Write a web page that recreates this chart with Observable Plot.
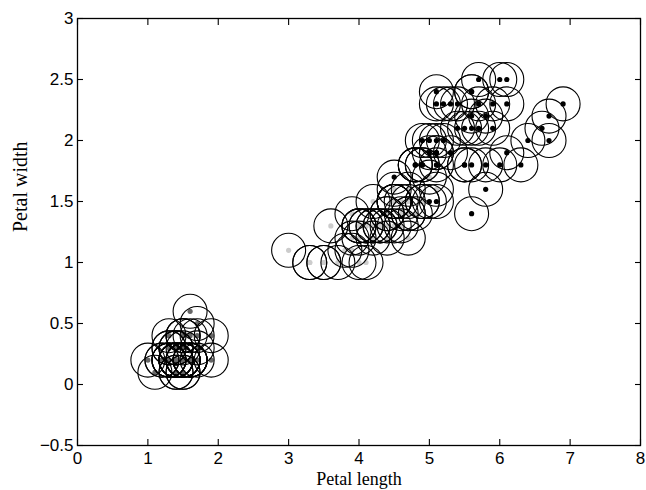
<!DOCTYPE html>
<html>
<head>
<meta charset="utf-8">
<script src="https://cdn.jsdelivr.net/npm/d3@7"></script>
<script src="https://cdn.jsdelivr.net/npm/@observablehq/plot@0.6"></script>
<style>
  html, body { margin: 0; padding: 0; background: #fff; }
  #chart svg { display: block; }
</style>
</head>
<body>
<div id="chart"></div>
<script>
// Iris petal measurements
const setosaLength = [1.4,1.4,1.3,1.5,1.4,1.7,1.4,1.5,1.4,1.5,1.5,1.6,1.4,1.1,1.2,1.5,1.3,1.4,1.7,1.5,1.7,1.5,1.0,1.7,1.9,1.6,1.6,1.5,1.4,1.6,1.6,1.5,1.5,1.4,1.5,1.2,1.3,1.4,1.3,1.5,1.3,1.3,1.3,1.6,1.9,1.4,1.6,1.4,1.5,1.4];
const setosaWidth  = [0.2,0.2,0.2,0.2,0.2,0.4,0.3,0.2,0.2,0.1,0.2,0.2,0.1,0.1,0.2,0.4,0.4,0.3,0.3,0.3,0.2,0.4,0.2,0.5,0.2,0.2,0.4,0.2,0.2,0.2,0.2,0.4,0.1,0.2,0.2,0.2,0.2,0.1,0.2,0.2,0.3,0.3,0.2,0.6,0.4,0.3,0.2,0.2,0.2,0.2];
const versicolorLength = [4.7,4.5,4.9,4.0,4.6,4.5,4.7,3.3,4.6,3.9,3.5,4.2,4.0,4.7,3.6,4.4,4.5,4.1,4.5,3.9,4.8,4.0,4.9,4.7,4.3,4.4,4.8,5.0,4.5,3.5,3.8,3.7,3.9,5.1,4.5,4.5,4.7,4.4,4.1,4.0,4.4,4.6,4.0,3.3,4.2,4.2,4.2,4.3,3.0,4.1];
const versicolorWidth  = [1.4,1.5,1.5,1.3,1.5,1.3,1.6,1.0,1.3,1.4,1.0,1.5,1.0,1.4,1.3,1.4,1.5,1.0,1.5,1.1,1.8,1.3,1.5,1.2,1.3,1.4,1.4,1.7,1.5,1.0,1.1,1.0,1.2,1.6,1.5,1.6,1.5,1.3,1.3,1.3,1.2,1.4,1.2,1.0,1.3,1.2,1.3,1.3,1.1,1.3];
const virginicaLength = [6.0,5.1,5.9,5.6,5.8,6.6,4.5,6.3,5.8,6.1,5.1,5.3,5.5,5.0,5.1,5.3,5.5,6.7,6.9,5.0,5.7,4.9,6.7,4.9,5.7,6.0,4.8,4.9,5.6,5.8,6.1,6.4,5.6,5.1,5.6,6.1,5.6,5.5,4.8,5.4,5.6,5.1,5.1,5.9,5.7,5.2,5.0,5.2,5.4,5.1];
const virginicaWidth  = [2.5,1.9,2.1,1.8,2.2,2.1,1.7,1.8,1.8,2.5,2.0,1.9,2.1,2.0,2.4,2.3,1.8,2.2,2.3,1.5,2.3,2.0,2.0,1.8,2.1,1.8,1.8,1.8,2.1,1.6,1.9,2.0,2.2,1.5,1.4,2.3,2.4,1.8,1.8,2.1,2.4,2.3,1.9,2.3,2.5,2.3,1.9,2.0,2.3,1.8];

const species = ["setosa", "versicolor", "virginica"];
const speciesColors = ["#666666", "#cccccc", "#000000"];
const xTicks = [0,1,2,3,4,5,6,7,8];
const yTicks = [-0.5,0,0.5,1,1.5,2,2.5,3];

const data = [
  ...setosaLength.map((v,i) => ({length: v, width: setosaWidth[i], species: "setosa"})),
  ...versicolorLength.map((v,i) => ({length: v, width: versicolorWidth[i], species: "versicolor"})),
  ...virginicaLength.map((v,i) => ({length: v, width: virginicaWidth[i], species: "virginica"}))
];

const sans = "'Liberation Sans', Arial, Helvetica, sans-serif";
const serif = "'Liberation Serif', 'DejaVu Serif', serif";

const chart = Plot.plot({
  width: 646,
  height: 490,
  marginLeft: 77,
  marginRight: 6,
  marginTop: 18,
  marginBottom: 45,
  style: {fontFamily: sans, fontSize: "16px", color: "#000", background: "#fff"},
  x: {domain: [0, 8]},
  y: {domain: [-0.5, 3]},
  color: {domain: species, range: speciesColors},
  marks: [
    Plot.dot(data, {x: "length", y: "width", r: 2.6, fill: "species", stroke: "none"}),
    Plot.dot(data, {x: "length", y: "width", r: 17, fill: "none", stroke: "#000", strokeWidth: 1.1}),
    Plot.frame({stroke: "#000", strokeWidth: 1.3}),
    Plot.axisX(xTicks, {anchor: "bottom", tickSize: -6, text: null, label: null, strokeWidth: 1.1}),
    Plot.axisX(xTicks, {anchor: "top", tickSize: -6, text: null, label: null, strokeWidth: 1.1}),
    Plot.axisY(yTicks, {anchor: "left", tickSize: -6, text: null, label: null, strokeWidth: 1.1}),
    Plot.axisY(yTicks, {anchor: "right", tickSize: -6, text: null, label: null, strokeWidth: 1.1}),
    Plot.axisX(xTicks, {anchor: "bottom", tickSize: 0, tickPadding: 6, label: null, fontSize: 17, fill: "#000"}),
    Plot.axisY(yTicks, {anchor: "left", tickSize: 0, tickPadding: 4, label: null, fontSize: 17, fill: "#000", tickFormat: d => d3.format("")(d)}),
    Plot.text(["Petal length"], {frameAnchor: "bottom", dy: 39, fontFamily: serif, fontSize: 18, fill: "#000"}),
    Plot.text(["Petal width"], {frameAnchor: "left", rotate: -90, dx: -57, fontFamily: serif, fontSize: 20, fill: "#000"})
  ]
});
document.getElementById("chart").appendChild(chart);
</script>
</body>
</html>
